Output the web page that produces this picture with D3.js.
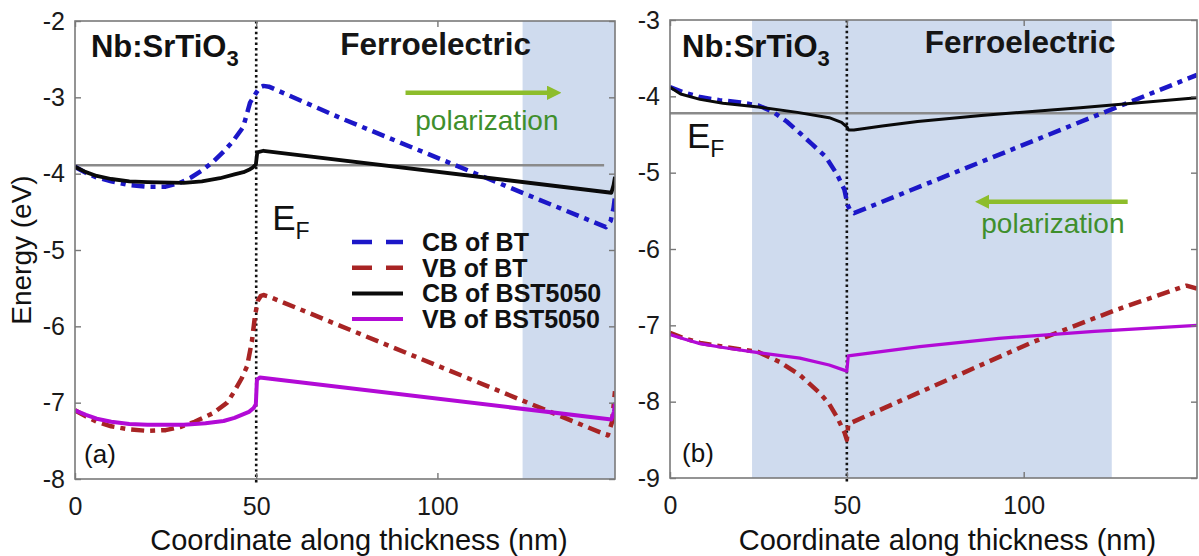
<!DOCTYPE html>
<html>
<head>
<meta charset="utf-8">
<script src="https://cdn.jsdelivr.net/npm/d3@7"></script>
<style>
  html, body { margin: 0; padding: 0; background: #fff; }
  svg { display: block; font-family: "Liberation Sans", Arial, Helvetica, sans-serif; }
</style>
</head>
<body>
<svg id="chart" width="1199" height="556"></svg>
<script>
// ---- Band-edge profiles along the film thickness (nm, eV) ----
// Panel (a): polarization pointing away from the Nb:SrTiO3 electrode
const cbBT_a = [[0,-3.91],[3,-3.99],[6,-4.05],[10,-4.10],[15,-4.15],[20,-4.17],[25,-4.17],[29,-4.12],[32,-4.05],[35,-3.96],[38,-3.85],[41,-3.71],[43.5,-3.58],[46.4,-3.39],[48.3,-3.07],[50,-2.94],[51,-2.87],[52,-2.85],[53.5,-2.86],[73.2,-3.27],[146.5,-4.70],[147.8,-4.62],[148.6,-4.45],[149,-4.30]];
const vbBT_a = [[0,-7.10],[3,-7.18],[6,-7.25],[10,-7.31],[15,-7.35],[20,-7.37],[25,-7.36],[29,-7.32],[33,-7.25],[38,-7.14],[42,-7.00],[44,-6.85],[46,-6.68],[47.5,-6.52],[48.8,-6.20],[49.7,-5.85],[50.5,-5.66],[51.3,-5.60],[52,-5.59],[53.5,-5.61],[147,-7.43],[148.2,-7.25],[149,-6.85]];
const cbBST_a = [[0,-3.91],[3,-3.98],[6,-4.03],[10,-4.07],[15,-4.10],[20,-4.11],[30,-4.12],[35,-4.10],[40,-4.06],[44,-4.01],[46.5,-3.98],[48,-3.95],[49,-3.92],[49.9,-3.88],[50.3,-3.72],[52,-3.70],[148,-4.25],[148.6,-4.15],[149,-4.04]];
const vbBST_a = [[0,-7.10],[3,-7.16],[6,-7.21],[10,-7.25],[15,-7.28],[20,-7.29],[30,-7.29],[36,-7.27],[41,-7.24],[44,-7.20],[46.5,-7.15],[48,-7.12],[49.3,-7.07],[49.9,-7.02],[50.2,-6.70],[51,-6.67],[148,-7.22],[148.7,-7.12],[149,-7.00]];

// Panel (b): polarization pointing toward the Nb:SrTiO3 electrode
const cbBT_b = [[0,-3.88],[4,-3.95],[8.5,-4.01],[14,-4.05],[20,-4.08],[25,-4.12],[29,-4.20],[33,-4.33],[36.7,-4.48],[40,-4.62],[44,-4.79],[47.2,-5.02],[49.3,-5.22],[50.2,-5.42],[51,-5.50],[52,-5.53],[149,-3.72]];
const vbBT_b = [[0,-7.10],[4,-7.17],[8.5,-7.23],[15,-7.28],[25,-7.35],[31,-7.48],[36.7,-7.65],[42.4,-7.89],[45,-8.03],[47.2,-8.20],[49.4,-8.41],[50,-8.50],[50.4,-8.30],[51.5,-8.27],[102.5,-7.22],[126,-6.80],[146,-6.48],[149,-6.52]];
const cbBST_b = [[0,-3.88],[3,-3.97],[8.5,-4.04],[15,-4.09],[25,-4.14],[36,-4.21],[45,-4.28],[48.5,-4.34],[50,-4.40],[50.5,-4.44],[52,-4.44],[60,-4.39],[70,-4.33],[88,-4.25],[116,-4.15],[149,-4.02]];
const vbBST_b = [[0,-7.12],[4,-7.18],[8.5,-7.24],[15,-7.29],[25.4,-7.36],[36.7,-7.43],[45,-7.52],[49.4,-7.59],[50,-7.60],[50.4,-7.40],[52,-7.39],[70.6,-7.28],[93,-7.17],[120,-7.08],[149,-7.00]];

// Fermi level, interface position and depletion regions
const fermi_a = -3.89, fermiEnd_a = 146;
const fermi_b = -4.22, fermiEnd_b = 149;
const interfaceX = 50;
const shade_a = [123.5, 149];
const shade_b = [23.2, 124.9];

// Axis ranges and tick labels
const xDomain = [0, 149];
const xTicks = [0, 50, 100];
const yTicks_a = [-8, -7, -6, -5, -4, -3, -2];
const yTicks_b = [-9, -8, -7, -6, -5, -4, -3];

// Legend entries
const seriesNames = ["CB of BT", "VB of BT", "CB of BST5050", "VB of BST5050"];

const COLORS = { cbBT: "#1c17c8", vbBT: "#a82424", cbBST: "#0a0a0a", vbBST: "#b20ad6" };
const DASH_BT = "13,6,5,6";
const FONT_TICK = 25, FONT_LABEL = 29;

const svg = d3.select("#chart");

const defs = svg.append("defs");

function arrowHead(id, color) {
  defs.append("marker")
    .attr("id", id)
    .attr("viewBox", "0 0 10 10")
    .attr("refX", 2).attr("refY", 5)
    .attr("markerWidth", 3.2).attr("markerHeight", 3.2)
    .attr("orient", "auto")
    .append("path").attr("d", "M0,0 L10,5 L0,10 Z").attr("fill", color);
}
arrowHead("arrowGreen", "#8dbd2b");

function drawPanel(p) {
  const x = d3.scaleLinear().domain(xDomain).range([p.left, p.right]);
  const y = d3.scaleLinear().domain(p.yDomain).range([p.bottom, p.top]);
  const g = svg.append("g");

  const clipId = "clip-" + p.id;
  defs.append("clipPath").attr("id", clipId)
    .append("rect").attr("x", p.left).attr("y", p.top)
    .attr("width", p.right - p.left).attr("height", p.bottom - p.top);

  // shaded depletion region
  g.append("rect")
    .attr("x", x(p.shade[0])).attr("y", p.top)
    .attr("width", x(p.shade[1]) - x(p.shade[0]))
    .attr("height", p.bottom - p.top)
    .attr("fill", "#cfdbee");

  // Fermi level
  g.append("line")
    .attr("x1", x(0)).attr("x2", x(p.fermiEnd))
    .attr("y1", y(p.fermi)).attr("y2", y(p.fermi))
    .attr("stroke", "#8a8a8a").attr("stroke-width", 2.5);

  // interface
  g.append("line")
    .attr("x1", x(interfaceX)).attr("x2", x(interfaceX))
    .attr("y1", p.top).attr("y2", p.bottom + 4)
    .attr("stroke", "#111").attr("stroke-width", 2.6)
    .attr("stroke-dasharray", "2.4,3");

  const line = d3.line().x(d => x(d[0])).y(d => y(d[1])).curve(d3.curveLinear);
  const curves = g.append("g").attr("clip-path", `url(#${clipId})`);
  p.series.forEach(s => {
    curves.append("path")
      .attr("d", line(s.data))
      .attr("fill", "none")
      .attr("stroke", s.color)
      .attr("stroke-width", s.width)
      .attr("stroke-dasharray", s.dash || null)
      .attr("stroke-linejoin", "round");
  });

  // axes with inward ticks on all four sides
  const fmt = d => String(d);
  const axL = g.append("g").attr("transform", `translate(${p.left},0)`)
    .call(d3.axisLeft(y).tickValues(p.yTicks).tickSize(-6).tickPadding(10).tickFormat(fmt));
  const axR = g.append("g").attr("transform", `translate(${p.right},0)`)
    .call(d3.axisRight(y).tickValues(p.yTicks).tickSize(-6).tickFormat(""));
  const axB = g.append("g").attr("transform", `translate(0,${p.bottom})`)
    .call(d3.axisBottom(x).tickValues(xTicks).tickSize(-6).tickPadding(18).tickFormat(fmt));
  const axT = g.append("g").attr("transform", `translate(0,${p.top})`)
    .call(d3.axisTop(x).tickValues(xTicks).tickSize(-6).tickFormat(""));
  [axL, axR, axB, axT].forEach(a => {
    a.select(".domain").remove();
    a.selectAll(".tick line").attr("stroke", "#777").attr("stroke-width", 1.4);
    a.selectAll("text").attr("fill", "#1a1a1a").attr("font-size", FONT_TICK)
      .attr("font-family", "Liberation Sans, Arial, sans-serif");
  });

  g.append("rect")
    .attr("x", p.left).attr("y", p.top)
    .attr("width", p.right - p.left).attr("height", p.bottom - p.top)
    .attr("fill", "none").attr("stroke", "#7a7a7a").attr("stroke-width", 1.6);

  // x-axis title
  g.append("text")
    .attr("x", (p.left + p.right) / 2 + 14).attr("y", 550)
    .attr("text-anchor", "middle").attr("font-size", FONT_LABEL).attr("fill", "#111")
    .text("Coordinate along thickness (nm)");

  // region titles
  const t1 = g.append("text")
    .attr("x", x(p.nbPos[0])).attr("y", y(p.nbPos[1]))
    .attr("font-size", 31).attr("font-weight", "bold").attr("fill", "#111");
  t1.append("tspan").text("Nb:SrTiO");
  t1.append("tspan").attr("font-size", 22).attr("dy", 9).text("3");

  g.append("text")
    .attr("x", x(p.ferroPos[0])).attr("y", y(p.ferroPos[1]))
    .attr("font-size", 31.5).attr("font-weight", "bold").attr("fill", "#161616")
    .text("Ferroelectric");

  // Fermi level label
  const ef = g.append("text")
    .attr("x", x(p.efPos[0])).attr("y", y(p.efPos[1]))
    .attr("font-size", 35).attr("fill", "#111");
  ef.append("tspan").text("E");
  ef.append("tspan").attr("font-size", 23).attr("dy", 9).text("F");

  // polarization direction
  g.append("line")
    .attr("x1", x(p.arrow[0])).attr("x2", x(p.arrow[1]))
    .attr("y1", y(p.arrow[2])).attr("y2", y(p.arrow[2]))
    .attr("stroke", "#8dbd2b").attr("stroke-width", 4.5)
    .attr("marker-end", "url(#arrowGreen)");
  g.append("text")
    .attr("x", x(p.polPos[0])).attr("y", y(p.polPos[1]))
    .attr("text-anchor", p.polAnchor)
    .attr("font-size", 28).attr("fill", "#3f8f2c")
    .text("polarization");

  // panel tag
  g.append("text")
    .attr("x", x(p.tagPos[0])).attr("y", y(p.tagPos[1]))
    .attr("font-size", 26).attr("fill", "#111")
    .text(p.tag);

  return { x, y, g };
}

const panelA = drawPanel({
  id: "a", left: 75, right: 615, top: 21, bottom: 479,
  yDomain: [-8, -2], yTicks: yTicks_a,
  shade: shade_a, fermi: fermi_a, fermiEnd: fermiEnd_a,
  series: [
    { data: cbBT_a, color: COLORS.cbBT, width: 4.5, dash: DASH_BT },
    { data: vbBT_a, color: COLORS.vbBT, width: 4.5, dash: DASH_BT },
    { data: cbBST_a, color: COLORS.cbBST, width: 3.8 },
    { data: vbBST_a, color: COLORS.vbBST, width: 4 }
  ],
  nbPos: [4.4, -2.47], ferroPos: [73.2, -2.45], efPos: [54.4, -4.74],
  arrow: [91.2, 131, -2.94], polPos: [93.9, -3.43], polAnchor: "start",
  tagPos: [2.5, -7.79], tag: "(a)"
});

const panelB = drawPanel({
  id: "b", left: 670, right: 1197, top: 20, bottom: 478,
  yDomain: [-9, -3], yTicks: yTicks_b,
  shade: shade_b, fermi: fermi_b, fermiEnd: fermiEnd_b,
  series: [
    { data: cbBT_b, color: COLORS.cbBT, width: 4.5, dash: DASH_BT },
    { data: vbBT_b, color: COLORS.vbBT, width: 4.5, dash: DASH_BT },
    { data: cbBST_b, color: COLORS.cbBST, width: 3 },
    { data: vbBST_b, color: COLORS.vbBST, width: 3.2 }
  ],
  nbPos: [3.4, -3.48], ferroPos: [72, -3.43], efPos: [4.8, -4.68],
  arrow: [129.4, 89.5, -5.38], polPos: [128.5, -5.79], polAnchor: "end",
  tagPos: [3.4, -8.79], tag: "(b)"
});

// y-axis title (shared)
svg.append("text")
  .attr("transform", `translate(31,${(21 + 479) / 2}) rotate(-90)`)
  .attr("text-anchor", "middle").attr("font-size", FONT_LABEL - 1).attr("fill", "#111")
  .text("Energy (eV)");

// legend inside panel (a)
const legendStyles = [
  { color: COLORS.cbBT, dash: "20,14", width: 4.5 },
  { color: COLORS.vbBT, dash: "20,14", width: 4.5 },
  { color: COLORS.cbBST, dash: null, width: 4 },
  { color: COLORS.vbBST, dash: null, width: 4 }
];
const legend = svg.append("g").attr("transform", "translate(352,242)");
seriesNames.forEach((name, i) => {
  const row = legend.append("g").attr("transform", `translate(0,${i * 25.7})`);
  row.append("line").attr("x1", 0).attr("x2", 51).attr("y1", 0).attr("y2", 0)
    .attr("stroke", legendStyles[i].color).attr("stroke-width", legendStyles[i].width)
    .attr("stroke-dasharray", legendStyles[i].dash);
  row.append("text").attr("x", 70).attr("y", 9)
    .attr("font-size", 25).attr("font-weight", "bold").attr("fill", "#111")
    .text(name);
});
</script>
</body>
</html>
